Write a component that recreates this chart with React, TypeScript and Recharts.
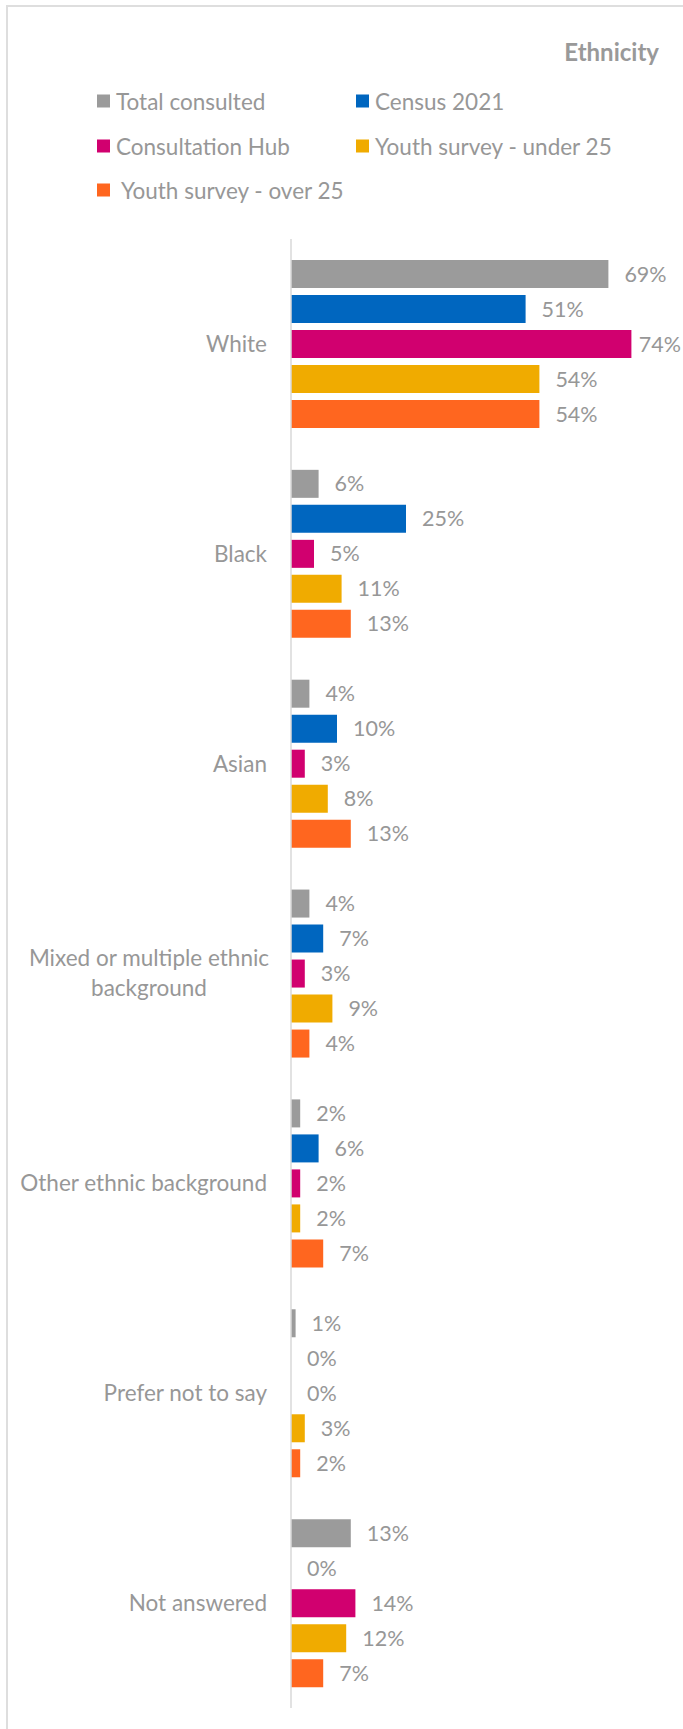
import { Bar, BarChart, LabelList, XAxis, YAxis } from "recharts"

const categories = [
  "White",
  "Black",
  "Asian",
  "Mixed or multiple ethnic background",
  "Other ethnic background",
  "Prefer not to say",
  "Not answered",
]

const totalConsulted = [69, 6, 4, 4, 2, 1, 13]
const census2021 = [51, 25, 10, 7, 6, 0, 0]
const consultationHub = [74, 5, 3, 3, 2, 0, 14]
const youthUnder25 = [54, 11, 8, 9, 2, 3, 12]
const youthOver25 = [54, 13, 13, 4, 7, 2, 7]

const series = [
  { key: "total", name: "Total consulted", color: "#9B9B9B", values: totalConsulted },
  { key: "census", name: "Census 2021", color: "#0066BF", values: census2021 },
  { key: "hub", name: "Consultation Hub", color: "#D1006F", values: consultationHub },
  { key: "under25", name: "Youth survey - under 25", color: "#F0AB00", values: youthUnder25 },
  { key: "over25", name: " Youth survey - over 25", color: "#FF661F", values: youthOver25 },
]

const chartData = categories.map((category, i) => {
  const row: Record<string, string | number> = { category }
  series.forEach((s) => {
    row[s.key] = s.values[i]
  })
  return row
})

const FONT = "Lato, 'Open Sans', sans-serif"
const TEXT = "#979797"
const W = 683

// legend slots (two columns, three rows) like the Excel layout
const legendPos = [
  { left: 97, top: 101 },
  { left: 356, top: 101 },
  { left: 97, top: 146 },
  { left: 356, top: 146 },
  { left: 97, top: 190 },
]

function wrap(text: string, max: number) {
  const words = text.split(" ")
  const lines: string[] = []
  let cur = ""
  words.forEach((w) => {
    const next = cur ? cur + " " + w : w
    if (next.length > max && cur) {
      lines.push(cur)
      cur = w
    } else {
      cur = next
    }
  })
  if (cur) lines.push(cur)
  return lines
}

function CategoryTick(props: any) {
  const { x, y, payload } = props
  const lines = wrap(payload.value, 24)
  if (lines.length === 1) {
    return (
      <text x={x} y={y} dy="0.35em" textAnchor="end" fill={TEXT} fontSize={22.5} fontFamily={FONT}>
        {lines[0]}
      </text>
    )
  }
  return (
    <text x={x - 118} y={y} textAnchor="middle" fill={TEXT} fontSize={22.5} fontFamily={FONT}>
      {lines.map((l, i) => (
        <tspan key={i} x={x - 118} dy={i === 0 ? "-0.35em" : "1.35em"}>
          {l}
        </tspan>
      ))}
    </text>
  )
}

// value label to the right of the bar, pulled back inside the picture when it would overflow
function ValueLabel(props: any) {
  const { x, y, width, height, value } = props
  const text = `${value}%`
  const start = x + width + 16
  const est = text.length * 13.5
  const fits = start + est < W - 2
  return (
    <text
      x={fits ? start : W - 2}
      y={y + height / 2}
      dy="0.35em"
      textAnchor={fits ? "start" : "end"}
      fill={TEXT}
      fontSize={21.5}
      fontFamily={FONT}
    >
      {text}
    </text>
  )
}

export default function App() {
  return (
    <div
      style={{
        position: "absolute",
        left: 0,
        top: 0,
        width: W,
        height: 1729,
        overflow: "hidden",
        background: "#fff",
        fontFamily: FONT,
      }}
    >
      <div
        style={{
          position: "absolute",
          left: 6,
          top: 5,
          width: 720,
          height: 1800,
          borderTop: "2px solid #DEDEDE",
          borderLeft: "2px solid #DEDEDE",
        }}
      />
      <div
        style={{
          position: "absolute",
          right: 24,
          top: 51,
          transform: "translateY(-50%)",
          fontSize: 24,
          fontWeight: 700,
          color: "#999",
        }}
      >
        Ethnicity
      </div>
      {series.map((s, i) => (
        <div
          key={s.key}
          style={{
            position: "absolute",
            left: legendPos[i].left,
            top: legendPos[i].top,
            transform: "translateY(-50%)",
            display: "flex",
            alignItems: "center",
            fontSize: 22.5,
            color: TEXT,
            whiteSpace: "pre",
          }}
        >
          <span style={{ width: 13, height: 13, background: s.color, marginRight: 6 }} />
          {s.name}
        </div>
      ))}
      <div style={{ position: "absolute", left: 0, top: 0 }}>
        <BarChart
          width={W}
          height={1729}
          data={chartData}
          layout="vertical"
          margin={{ top: 239, right: 24, bottom: 21, left: 0 }}
          barCategoryGap="10%"
          barGap={7}
        >
          <XAxis type="number" domain={[0, 80]} hide />
          <YAxis
            type="category"
            dataKey="category"
            width={291}
            axisLine={{ stroke: "#D9D9D9", strokeWidth: 1.5 }}
            tickLine={false}
            tickSize={0}
            tickMargin={24}
            interval={0}
            tick={<CategoryTick />}
          />
          {series.map((s) => (
            <Bar
              key={s.key}
              dataKey={s.key}
              name={s.name}
              fill={s.color}
              minPointSize={0.01}
              isAnimationActive={false}
            >
              <LabelList dataKey={s.key} content={<ValueLabel />} />
            </Bar>
          ))}
        </BarChart>
      </div>
    </div>
  )
}
